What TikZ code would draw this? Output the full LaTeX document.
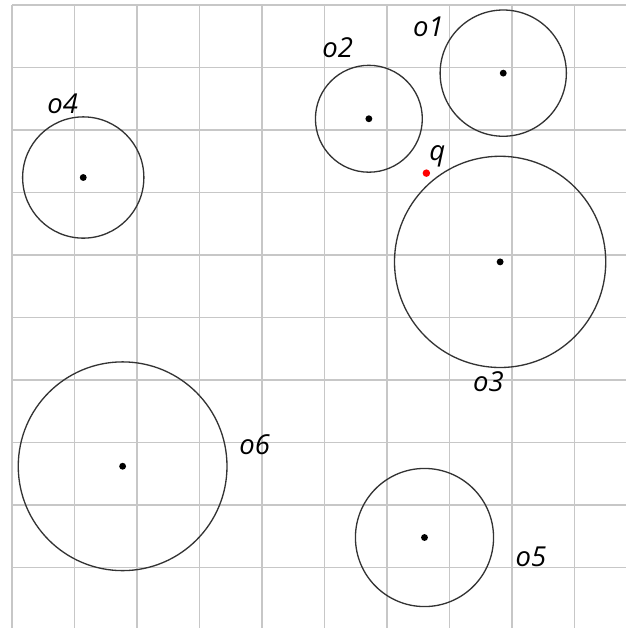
\documentclass[tikz,border=0pt]{standalone}
\usepackage{fontspec}
\setsansfont{Open Sans}
\usepackage{tikz}
\usetikzlibrary{positioning}

\begin{document}
\begin{tikzpicture}[
    x=1cm, y=-1cm,
    gridline/.style={
      draw=black!22,
      line width=0.7pt,
    },
    region/.style={
      circle,
      draw=black!80,
      line width=0.6pt,
      inner sep=0pt,
    },
    centre/.style={
      circle,
      fill=black,
      inner sep=0pt,
      minimum size=0.11cm,
    },
    querypt/.style={
      circle,
      fill=red,
      inner sep=0pt,
      minimum size=0.12cm,
    },
    lbl/.style={
      font=\sffamily\itshape\fontsize{12.5}{13}\selectfont,
      inner sep=0pt,
      anchor=base west,
    },
  ]

  % --- Frame of the picture ---
  \useasboundingbox (-0.192,-0.08) rectangle (9.824,9.968);

  % --- Grid ---
  \foreach \i in {0,...,9} {
    \draw[gridline] (\i,0) -- (\i,9.968);
    \draw[gridline] (0,\i) -- (9.824,\i);
  }

  % --- Circles ---
  \node[region, minimum size=2.02cm] (o1) at (7.86,1.09) {};
  \node[region, minimum size=1.71cm] (o2) at (5.71,1.82) {};
  \node[region, minimum size=3.38cm] (o3) at (7.81,4.11) {};
  \node[region, minimum size=1.94cm] (o4) at (1.14,2.76) {};
  \node[region, minimum size=2.21cm] (o5) at (6.60,8.52) {};
  \node[region, minimum size=3.34cm] (o6) at (1.77,7.38) {};

  % --- Centres ---
  \foreach \c in {o1,o2,o3,o4,o5,o6}
    \node[centre] (\c-c) at (\c.center) {};

  % --- Query point ---
  \node[querypt] (q) at (6.63,2.69) {};

  % --- Labels ---
  \node[lbl] (o1-l) at (6.41,0.50) {o1};
  \node[lbl] (o2-l) at (4.96,0.84) {o2};
  \node[lbl] (o3-l) at (7.37,6.19) {o3};
  \node[lbl] (o4-l) at (0.56,1.73) {o4};
  \node[lbl] (o5-l) at (8.05,8.98) {o5};
  \node[lbl] (o6-l) at (3.63,7.19) {o6};
  \node[lbl] (q-l) at (6.67,2.48) {q};

\end{tikzpicture}
\end{document}
